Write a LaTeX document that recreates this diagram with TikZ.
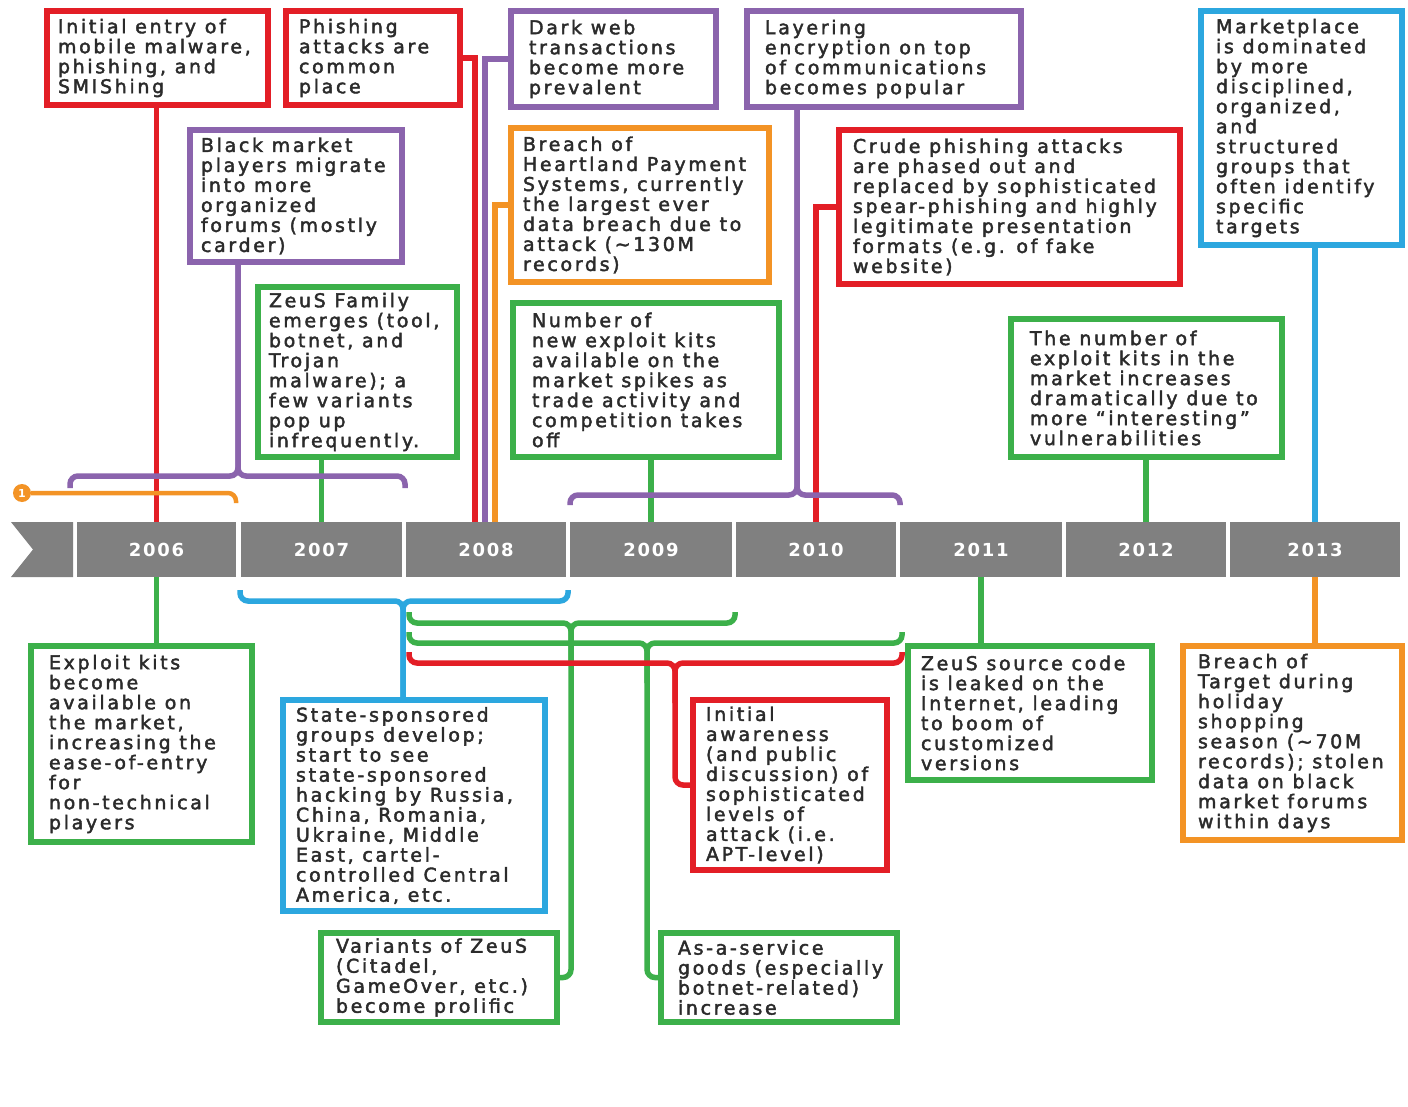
\documentclass[tikz,border=0pt]{standalone}
\usepackage{fontspec}
\newfontfamily\evfont{DejaVu Sans}[LetterSpace=14,FakeBold=2.2]
\newfontfamily\yrfont{DejaVu Sans}[LetterSpace=10]
\definecolor{cred}{HTML}{E31E26}
\definecolor{cpurple}{HTML}{8B64AD}
\definecolor{corange}{HTML}{F39325}
\definecolor{cgreen}{HTML}{3CB04A}
\definecolor{cblue}{HTML}{2CA7DF}
\definecolor{cgrey}{HTML}{808080}
\definecolor{ctext}{HTML}{2B2B2B}
\pgfdeclarelayer{bg}
\pgfsetlayers{bg,main}
\tikzset{
  evframe/.style={line width=6pt, fill=white, inner sep=0pt, outer sep=0pt},
  evtext/.style={inner sep=0pt, outer sep=0pt, align=left, text=ctext,
    font=\evfont\fontsize{19}{20}\selectfont},
  conn/.style={line width=5.5pt},
  curl/.style={line width=5.5pt, rounded corners=8pt},
  yrseg/.style={fill=cgrey, minimum height=55pt, inner sep=0pt, outer sep=0pt,
    text=white, font=\yrfont\bfseries\fontsize{18}{20}\selectfont},
}
% #1 name, #2 colour, #3 x0, #4 y0, #5 x1, #6 y1, #7 text inset, #8 text
\newcommand\EvBox[8]{%
  \node[evframe, draw=#2, minimum width={#5-#3-6}, minimum height={#6-#4-6},
        anchor=north west] (#1) at ({#3+3},{#4+3}) {};
  \node[evtext, anchor=west] (#1t) at ([xshift={#7-3}]#1.west) {#8};%
}
\begin{document}
\begin{tikzpicture}[x=1pt,y=-1pt]
\useasboundingbox (0,0) rectangle (1408,1107);
\begin{pgfonlayer}{bg}
\fill[white] (0,0) rectangle (1408,1107);
\end{pgfonlayer}

% ---------- timeline ----------
\fill[cgrey] (11,522) -- (73,522) -- (73,577) -- (11,577) -- (33,549.5) -- cycle;
\node[yrseg, minimum width=159pt] (y2006) at (156.5,549.5) {2006};
\node[yrseg, minimum width=161pt] (y2007) at (321.5,549.5) {2007};
\node[yrseg, minimum width=160pt] (y2008) at (486,549.5) {2008};
\node[yrseg, minimum width=162pt] (y2009) at (651,549.5) {2009};
\node[yrseg, minimum width=160pt] (y2010) at (816,549.5) {2010};
\node[yrseg, minimum width=162pt] (y2011) at (981,549.5) {2011};
\node[yrseg, minimum width=160pt] (y2012) at (1146,549.5) {2012};
\node[yrseg, minimum width=170pt] (y2013) at (1315,549.5) {2013};

% ---------- boxes above ----------
\EvBox{b1}{cred}{44}{8}{271}{108}{14}{Initial entry of\\mobile malware,\\phishing, and\\SMIShing}
\EvBox{b2}{cred}{283}{8}{463}{108}{16}{Phishing\\attacks are\\common\\place}
\EvBox{b3}{cpurple}{508}{8}{719}{110}{21}{Dark web\\transactions\\become more\\prevalent}
\EvBox{b4}{cpurple}{744}{8}{1024}{110}{21}{Layering\\encryption on top\\of communications\\becomes popular}
\EvBox{b5}{cblue}{1198}{8}{1405}{248}{18}{Marketplace\\is dominated\\by more\\disciplined,\\organized,\\and\\structured\\groups that\\often identify\\specific\\targets}
\EvBox{b6}{cpurple}{187}{127}{405}{265}{14}{Black market\\players migrate\\into more\\organized\\forums (mostly\\carder)}
\EvBox{b7}{corange}{508}{125}{772}{285}{15}{Breach of\\Heartland Payment\\Systems, currently\\the largest ever\\data breach due to\\attack (\textasciitilde130M\\records)}
\EvBox{b8}{cred}{836}{127}{1183}{287}{17}{Crude phishing attacks\\are phased out and\\replaced by sophisticated\\spear-phishing and highly\\legitimate presentation\\formats (e.g. of fake\\website)}
\EvBox{b9}{cgreen}{255}{284}{460}{460}{14}{ZeuS Family\\emerges (tool,\\botnet, and\\Trojan\\malware); a\\few variants\\pop up\\infrequently.}
\EvBox{b10}{cgreen}{510}{300}{782}{460}{22}{Number of\\new exploit kits\\available on the\\market spikes as\\trade activity and\\competition takes\\off}
\EvBox{b11}{cgreen}{1008}{316}{1285}{460}{22}{The number of\\exploit kits in the\\market increases\\dramatically due to\\more “interesting”\\vulnerabilities}

% ---------- boxes below ----------
\EvBox{b12}{cgreen}{28}{643}{255}{845}{21}{Exploit kits\\become\\available on\\the market,\\increasing the\\ease-of-entry\\for\\non-technical\\players}
\EvBox{b13}{cblue}{280}{697}{548}{914}{16}{State-sponsored\\groups develop;\\start to see\\state-sponsored\\hacking by Russia,\\China, Romania,\\Ukraine, Middle\\East, cartel-\\controlled Central\\America, etc.}
\EvBox{b14}{cred}{690}{697}{890}{873}{16}{Initial\\awareness\\(and public\\discussion) of\\sophisticated\\levels of\\attack (i.e.\\APT-level)}
\EvBox{b15}{cgreen}{905}{643}{1155}{783}{16}{ZeuS source code\\is leaked on the\\Internet, leading\\to boom of\\customized\\versions}
\EvBox{b16}{corange}{1180}{643}{1405}{843}{18}{Breach of\\Target during\\holiday\\shopping\\season (\textasciitilde70M\\records); stolen\\data on black\\market forums\\within days}
\EvBox{b17}{cgreen}{318}{930}{560}{1025}{18}{Variants of ZeuS\\(Citadel,\\GameOver, etc.)\\become prolific}
\EvBox{b18}{cgreen}{658}{930}{900}{1025}{20}{As-a-service\\goods (especially\\botnet-related)\\increase}

% ---------- marker "1" ----------
\node[circle, fill=corange, inner sep=0pt, minimum size=18pt, text=white,
      font=\yrfont\bfseries\fontsize{11}{11}\selectfont] (one) at (22,493) {1};

% ---------- bracket coordinates ----------
\coordinate (oneR) at (236,503);
\coordinate (pA) at (238,476);
\coordinate (pAL) at (70,488);
\coordinate (pAR) at (405,488);
\coordinate (pB) at (797,495);
\coordinate (pBL) at (570,505);
\coordinate (pBR) at (900,505);
\coordinate (bA) at (403,601);
\coordinate (bAL) at (240,590);
\coordinate (bAR) at (568,590);
\coordinate (gA) at (571,623);
\coordinate (gAL) at (409,612);
\coordinate (gAR) at (735,612);
\coordinate (gB) at (647,643);
\coordinate (gBL) at (409,632);
\coordinate (gBR) at (902,632);
\coordinate (rA) at (675,663);
\coordinate (rAL) at (409,652);
\coordinate (rAR) at (902,652);

\begin{pgfonlayer}{bg}
% above the timeline
\draw[conn,cred] (y2006.north) -- (y2006.north |- b1.south);
\draw[conn,cgreen] (y2007.north) -- (y2007.north |- b9.south);
\draw[conn,cred] (b2.east) -| ([xshift=-11pt]y2008.north);
\draw[conn,cpurple] (b3.west) -| ([xshift=-1pt]y2008.north);
\draw[conn,corange] (b7.west) -| ([xshift=9pt]y2008.north);
\draw[conn,cgreen] (y2009.north) -- (y2009.north |- b10.south);
\draw[conn,cred] (b8.west) -| (y2010.north);
\draw[conn,cgreen] (y2012.north) -- (y2012.north |- b11.south);
\draw[conn,cblue] (y2013.north) -- (y2013.north |- b5.south);
\draw[curl,cpurple] (pAL) |- (pA) -- (pA |- b6.south);
\draw[curl,cpurple] (pAR) |- (pA) -- (pA |- b6.south);
\draw[curl,cpurple] (pBL) |- (pB) -- (pB |- b4.south);
\draw[curl,cpurple] (pBR) |- (pB) -- (pB |- b4.south);
\draw[curl,corange,line width=4.5pt] (one.east) -| (oneR);
% below the timeline
\draw[conn,cgreen] (y2006.south) -- (y2006.south |- b12.north);
\draw[conn,cgreen] (y2011.south) -- (y2011.south |- b15.north);
\draw[conn,corange] (y2013.south) -- (y2013.south |- b16.north);
\draw[curl,cblue] (bAL) |- (bA) -- (bA |- b13.north);
\draw[curl,cblue] (bAR) |- (bA) -- (bA |- b13.north);
\draw[curl,cgreen] (gAL) |- (gA) |- (b17.east);
\draw[curl,cgreen] (gAR) |- (gA) -- ([yshift=-40pt]gA);
\draw[curl,cgreen] (gBL) |- (gB) |- (b18.west);
\draw[curl,cgreen] (gBR) |- (gB) -- ([yshift=-40pt]gB);
\draw[curl,cred] (rAL) |- (rA) |- (b14.west);
\draw[curl,cred] (rAR) |- (rA) -- ([yshift=-40pt]rA);
\end{pgfonlayer}
\end{tikzpicture}
\end{document}
